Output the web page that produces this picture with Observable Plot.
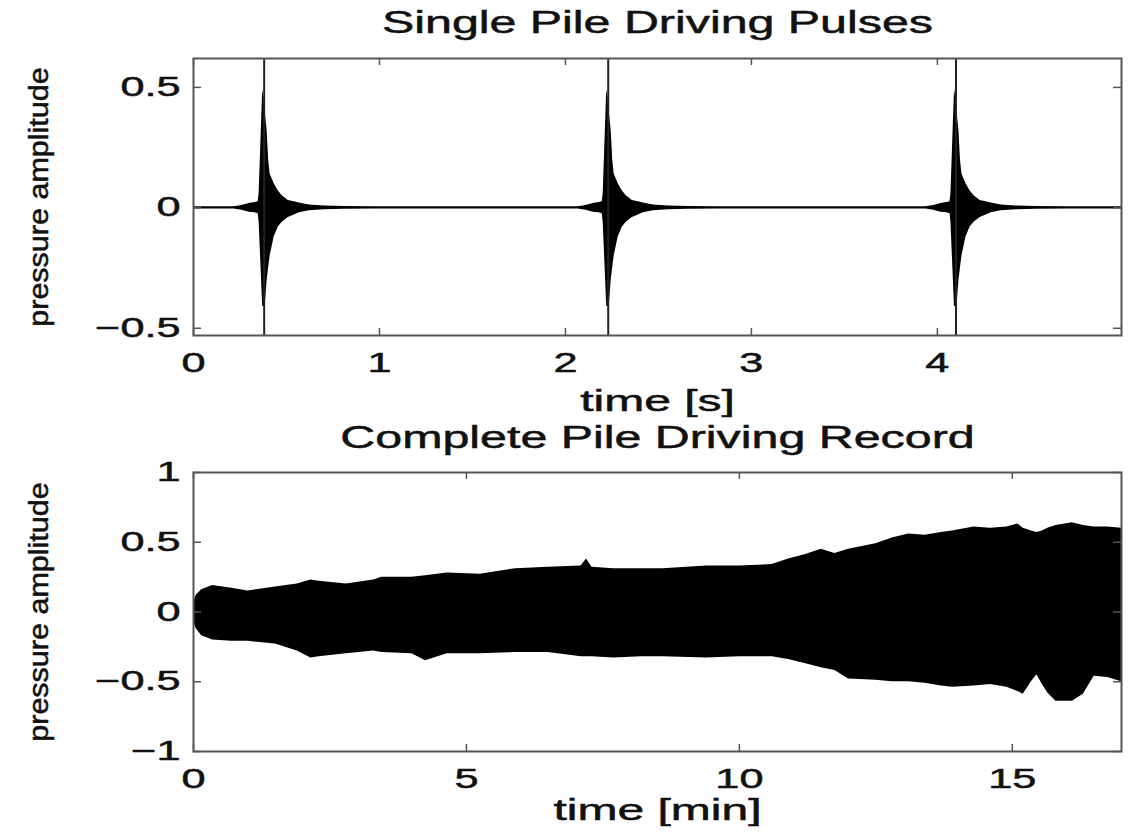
<!DOCTYPE html>
<html><head><meta charset="utf-8">
<script src="https://cdn.jsdelivr.net/npm/d3@7"></script>
<script src="https://cdn.jsdelivr.net/npm/@observablehq/plot@0.6"></script>
<style>body{margin:0;background:#fff} #chart{width:1129px} #chart svg{display:block}</style>
</head><body><div id="chart"></div>
<script>
// ---------- Top panel: single pulses ----------
const topTitle = "Single Pile Driving Pulses";
const topXLabel = "time [s]";
const yLabel = "pressure amplitude";
const topXTicks = [0, 1, 2, 3, 4];
const topYTicks = [-0.5, 0, 0.5];
const topDomainX = [0, 4.99];
const topDomainY = [-0.53, 0.62];
const pulseTimes = [0.38, 2.23, 4.10];
// envelope of one pulse (seconds relative to the spike)
const pulseOffsets = [-0.162, -0.119, -0.081, -0.049, -0.032, -0.027, -0.008, 0, 0.0054, 0.016, 0.024, 0.032, 0.054, 0.076, 0.097, 0.130, 0.162, 0.189, 0.243, 0.324, 0.432, 0.594];
const pulseUpper   = [0.005, 0.010, 0.018, 0.022, 0.025, 0.06, 0.49, 0.45, 0.40, 0.32, 0.20, 0.14, 0.10, 0.07, 0.05, 0.03, 0.025, 0.02, 0.012, 0.008, 0.006, 0.005];
const pulseLower   = [-0.005, -0.010, -0.018, -0.020, -0.025, -0.06, -0.41, -0.41, -0.41, -0.30, -0.25, -0.20, -0.12, -0.08, -0.06, -0.04, -0.03, -0.02, -0.012, -0.008, -0.006, -0.005];
const baselineNoise = 0.005;

// ---------- Bottom panel: complete record ----------
const botTitle = "Complete Pile Driving Record";
const botXLabel = "time [min]";
const botXTicks = [0, 5, 10, 15];
const botYTicks = [-1, -0.5, 0, 0.5, 1];
const botDomainX = [0, 17];
const botDomainY = [-1, 1];
const recTime  = [0, 0.05, 0.15, 0.35, 0.7, 1.0, 1.5, 1.9, 2.15, 2.3, 2.8, 3.3, 3.45, 4.0, 4.25, 4.65, 5.25, 5.9, 6.5, 7.1, 7.2, 7.3, 7.7, 8.2, 8.6, 9.4, 10.0, 10.6, 10.9, 11.2, 11.5, 11.75, 12.0, 12.5, 12.8, 13.1, 13.4, 13.7, 13.9, 14.3, 14.6, 14.9, 15.1, 15.2, 15.35, 15.45, 15.55, 15.65, 15.8, 16.1, 16.3, 16.5, 16.75, 17];
const recUpper = [0.07, 0.12, 0.16, 0.19, 0.17, 0.15, 0.18, 0.20, 0.23, 0.22, 0.20, 0.23, 0.25, 0.25, 0.26, 0.28, 0.27, 0.31, 0.32, 0.33, 0.38, 0.32, 0.31, 0.31, 0.31, 0.33, 0.33, 0.34, 0.38, 0.41, 0.45, 0.42, 0.45, 0.49, 0.53, 0.56, 0.55, 0.57, 0.58, 0.61, 0.60, 0.61, 0.63, 0.60, 0.58, 0.57, 0.58, 0.60, 0.62, 0.64, 0.62, 0.61, 0.61, 0.60];
const recLower = [-0.07, -0.12, -0.17, -0.20, -0.21, -0.21, -0.23, -0.28, -0.33, -0.32, -0.30, -0.28, -0.29, -0.30, -0.35, -0.30, -0.30, -0.29, -0.29, -0.32, -0.32, -0.32, -0.33, -0.32, -0.32, -0.33, -0.32, -0.32, -0.34, -0.37, -0.40, -0.42, -0.48, -0.49, -0.50, -0.50, -0.51, -0.53, -0.54, -0.53, -0.52, -0.54, -0.57, -0.59, -0.50, -0.45, -0.52, -0.58, -0.64, -0.64, -0.59, -0.46, -0.47, -0.50];

// ---------- tables ----------
const topData = [{t: topDomainX[0], lo: -baselineNoise, hi: baselineNoise}];
pulseTimes.forEach(p => pulseOffsets.forEach((o, j) => topData.push({t: p + o, lo: pulseLower[j], hi: pulseUpper[j]})));
topData.push({t: topDomainX[1], lo: -baselineNoise, hi: baselineNoise});
const botData = recTime.map((t, i) => ({t, lo: recLower[i], hi: recUpper[i]}));

const FONT = "Liberation Sans, Arial, Helvetica, sans-serif";
const INK = "#111";
const FRAME = "#555";
const fmt = d => (d < 0 ? "\u2212" : "") + Math.abs(d);

function panel({data, width, height, mt, mb, ml, mr, domX, domY, xTicks, yTicks, title, titleDy, xlabel, xlabelDy, extra}) {
  const H = height - mt - mb, W = width - ml - mr;
  return Plot.plot({
    width, height, marginTop: mt, marginBottom: mb, marginLeft: ml, marginRight: mr,
    style: {fontFamily: FONT, background: "white", color: INK, overflow: "visible"},
    x: {domain: domX, label: null},
    y: {domain: domY, label: null},
    marks: [
      Plot.areaY(data, {x: "t", y1: "lo", y2: "hi", fill: "#000", curve: "linear"}),
      ...(extra || []),
      Plot.frame({stroke: FRAME, strokeWidth: 2}),
      Plot.tickX(xTicks, {x: d => d, insetTop: H - 7, stroke: FRAME, strokeWidth: 1.5}),
      Plot.tickX(xTicks, {x: d => d, insetBottom: H - 7, stroke: FRAME, strokeWidth: 1.5}),
      Plot.tickY(yTicks, {y: d => d, insetRight: W - 8, stroke: FRAME, strokeWidth: 1.5}),
      Plot.tickY(yTicks, {y: d => d, insetLeft: W - 8, stroke: FRAME, strokeWidth: 1.5}),
      Plot.axisX(xTicks, {tickSize: 0, tickPadding: 17, fontSize: 27, label: null, fill: INK, tickFormat: fmt}),
      Plot.axisY(yTicks, {tickSize: 0, tickPadding: 13, fontSize: 27, label: null, fill: INK, tickFormat: fmt}),
      Plot.text([title], {text: d => d, frameAnchor: "top", lineAnchor: "bottom", dy: titleDy, fontSize: 31, fill: INK}),
      Plot.text([xlabel], {text: d => d, frameAnchor: "bottom", lineAnchor: "bottom", dy: xlabelDy, fontSize: 30, fill: INK}),
      Plot.text([yLabel], {text: d => d, frameAnchor: "left", textAnchor: "middle", rotate: -90, lineAnchor: "top", dx: -(ml - 28), fontSize: 27, fill: INK})
    ]
  });
}

const p1 = panel({data: topData, width: 1129, height: 415, mt: 58, mb: 80, ml: 193, mr: 8,
  domX: topDomainX, domY: topDomainY, xTicks: topXTicks, yTicks: topYTicks,
  title: topTitle, titleDy: -26, xlabel: topXLabel, xlabelDy: 75,
  extra: [Plot.ruleX(pulseTimes, {stroke: "#222", strokeWidth: 2})]});
const p2 = panel({data: botData, width: 1129, height: 422, mt: 57, mb: 86, ml: 193, mr: 8,
  domX: botDomainX, domY: botDomainY, xTicks: botXTicks, yTicks: botYTicks,
  title: botTitle, titleDy: -25, xlabel: botXLabel, xlabelDy: 68});

const chart = document.getElementById("chart");
chart.append(p1, p2);

// the original figure is horizontally stretched: widen glyphs along the text direction
const titles = [topTitle, botTitle];
for (const svg of [p1, p2]) {
  svg.querySelectorAll("text").forEach(t => {
    const len = t.getComputedTextLength();
    if (!len) return;
    const s = t.textContent;
    const k = s === yLabel ? 1.13 : titles.includes(s) ? 1.56 : 1.6;
    t.setAttribute("textLength", (len * k).toFixed(1));
    t.setAttribute("lengthAdjust", "spacingAndGlyphs");
    t.style.stroke = INK;
    t.style.strokeWidth = "0.5px";
  });
}
</script>
</body></html>
